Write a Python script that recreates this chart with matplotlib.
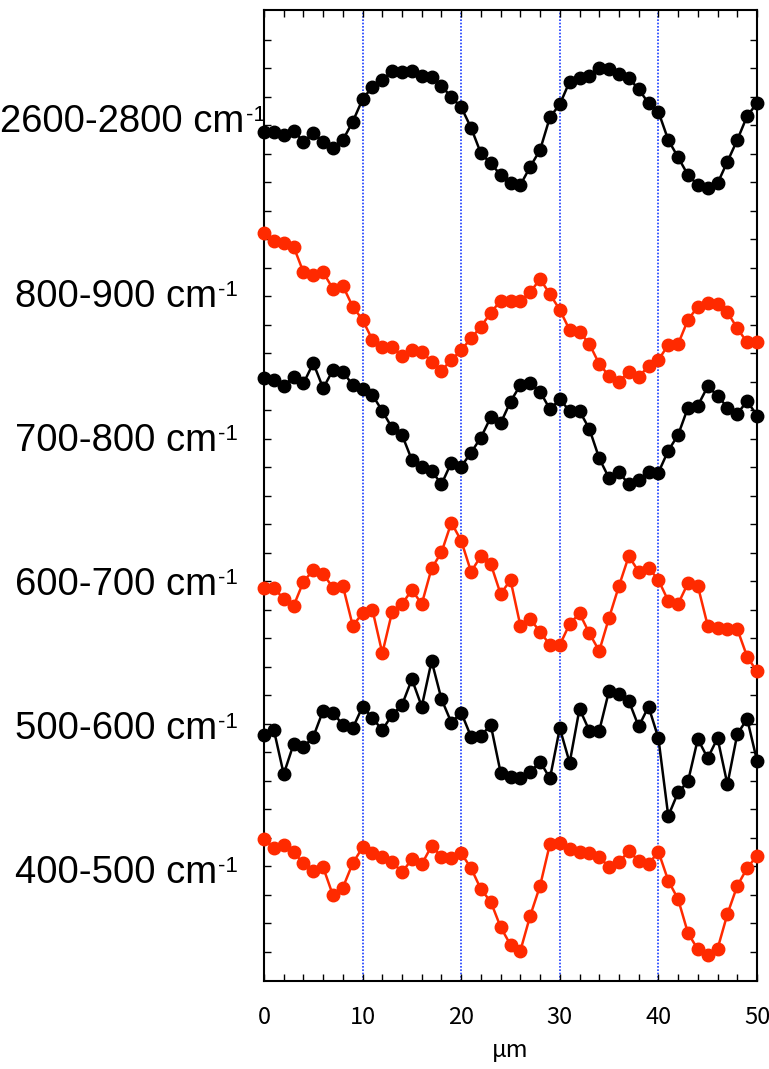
import matplotlib.pyplot as plt
import matplotlib.transforms as mtransforms
import numpy as np

# position along the line scan (um)
x_um = np.arange(0, 51)

band_labels = ['2600-2800 cm', '800-900 cm', '700-800 cm',
               '600-700 cm', '500-600 cm', '400-500 cm']
band_colors = ['black', '#ff2a00', 'black', '#ff2a00', 'black', '#ff2a00']

# intensities (arbitrary units, stacked with offsets as in the figure)
band_2600 = [29.78, 29.78, 29.67, 29.82, 29.43, 29.73, 29.43, 29.20, 29.49, 30.13,
             30.92, 31.36, 31.60, 31.91, 31.89, 31.91, 31.74, 31.71, 31.39, 30.99,
             30.64, 29.92, 29.02, 28.67, 28.26, 27.97, 27.91, 28.55, 29.14, 30.29,
             30.74, 31.54, 31.66, 31.74, 32.01, 31.98, 31.81, 31.66, 31.27, 30.78,
             30.48, 29.49, 28.88, 28.26, 27.91, 27.82, 27.97, 28.73, 29.49, 30.33,
             30.78]
band_800 = [26.24, 25.95, 25.89, 25.75, 24.85, 24.75, 24.85, 24.26, 24.37, 23.64,
            23.18, 22.47, 22.22, 22.22, 21.92, 22.12, 22.06, 21.71, 21.40, 21.77,
            22.12, 22.53, 22.94, 23.43, 23.85, 23.85, 23.85, 24.15, 24.61, 24.08,
            23.53, 22.82, 22.76, 22.33, 21.63, 21.21, 21.01, 21.36, 21.16, 21.57,
            21.77, 22.30, 22.33, 23.18, 23.64, 23.76, 23.74, 23.45, 22.88, 22.39,
            22.41]
band_700 = [21.15, 21.07, 20.86, 21.19, 20.95, 21.66, 20.78, 21.42, 21.36, 20.89,
            20.74, 20.54, 19.98, 19.38, 19.14, 18.26, 18.03, 17.88, 17.41, 18.17,
            18.03, 18.52, 19.05, 19.76, 19.55, 20.31, 20.89, 20.95, 20.66, 20.04,
            20.39, 19.98, 19.98, 19.35, 18.32, 17.62, 17.83, 17.41, 17.56, 17.83,
            17.82, 18.59, 19.14, 20.10, 20.17, 20.84, 20.52, 20.10, 19.88, 20.33,
            19.82]
band_600 = [13.78, 13.78, 13.38, 13.14, 13.99, 14.40, 14.26, 13.78, 13.84, 12.45,
            12.88, 13.00, 11.48, 12.94, 13.21, 13.70, 13.21, 14.46, 15.02, 16.06,
            15.43, 14.34, 14.89, 14.61, 13.56, 14.05, 12.45, 12.67, 12.24, 11.77,
            11.77, 12.51, 12.88, 12.18, 11.56, 12.73, 13.84, 14.89, 14.34, 14.48,
            14.05, 13.32, 13.21, 13.94, 13.84, 12.45, 12.36, 12.33, 12.33, 11.36,
            10.84]
band_500 = [8.61, 8.79, 7.24, 8.29, 8.18, 8.55, 9.47, 9.40, 8.96, 8.85,
            9.61, 9.20, 8.79, 9.32, 9.67, 10.57, 9.61, 11.21, 9.87, 9.05,
            9.40, 8.55, 8.59, 8.96, 7.29, 7.15, 7.09, 7.31, 7.68, 7.09,
            8.85, 7.64, 9.53, 8.76, 8.76, 10.17, 10.04, 9.81, 8.91, 9.61,
            8.50, 5.77, 6.60, 6.98, 8.47, 7.80, 8.50, 6.88, 8.64, 9.18,
            7.71]
band_400 = [4.95, 4.64, 4.75, 4.50, 4.11, 3.85, 3.97, 2.98, 3.26, 4.11,
            4.67, 4.46, 4.34, 4.15, 3.80, 4.25, 4.08, 4.72, 4.34, 4.29,
            4.46, 3.94, 3.20, 2.76, 1.87, 1.25, 1.04, 2.27, 3.32, 4.79,
            4.81, 4.60, 4.52, 4.46, 4.32, 3.99, 4.15, 4.54, 4.20, 4.08,
            4.52, 3.50, 2.85, 1.66, 1.09, 0.89, 1.11, 2.33, 3.32, 3.94,
            4.38]

guide_x = [10, 20, 30, 40]

series = [band_2600, band_800, band_700, band_600, band_500, band_400]
label_y = [29.78, 23.64, 18.59, 13.54, 8.48, 3.43]
label_x = [0.0005, 0.019, 0.019, 0.019, 0.019, 0.019]

fig = plt.figure(figsize=(7.69, 10.69), dpi=100)
ax = fig.add_axes([264 / 769, 1 - 981 / 1069, 493 / 769, 971 / 1069])

for xv in guide_x:
    ax.axvline(xv, color='#1a3cff', ls=(0, (1, 1)), lw=1.2, zorder=1)

for vals, color in zip(series, band_colors):
    ax.plot(x_um, vals, '-o', color=color, ms=9, lw=1.8,
            clip_on=False, zorder=3)

ax.set_xlim(0, 50)
ax.set_ylim(-0.02, 34.05)
ax.set_xticks(range(0, 51, 10))
ax.set_xticks(range(0, 51, 2), minor=True)
ax.set_yticks(range(1, 34))
ax.tick_params(which='both', direction='in', top=True, right=True,
               length=5, width=1)
ax.tick_params(axis='y', labelleft=False)
ax.tick_params(axis='x', labelsize=17, pad=18)
for lab in ax.get_xticklabels():
    lab.set_fontfamily('Noto Sans CJK JP')
for sp in ax.spines.values():
    sp.set_linewidth(1.5)

ax.set_xlabel('μm', fontsize=17, fontfamily='Noto Sans CJK JP', labelpad=7)

# band names sit left of the axes, y in data units
blend = mtransforms.blended_transform_factory(fig.transFigure, ax.transData)

for lab, lx, ly in zip(band_labels, label_x, label_y):
    t = ax.text(lx, ly, lab, transform=blend, fontsize=27.5,
                fontfamily='Liberation Sans', va='baseline', ha='left',
                clip_on=False)
    ax.annotate('-1', xy=(1, 1), xycoords=t, xytext=(1, -1),
                textcoords='offset pixels', fontsize=16,
                fontfamily='Liberation Sans', va='top', ha='left')

fig.savefig('out.png', dpi=100)
